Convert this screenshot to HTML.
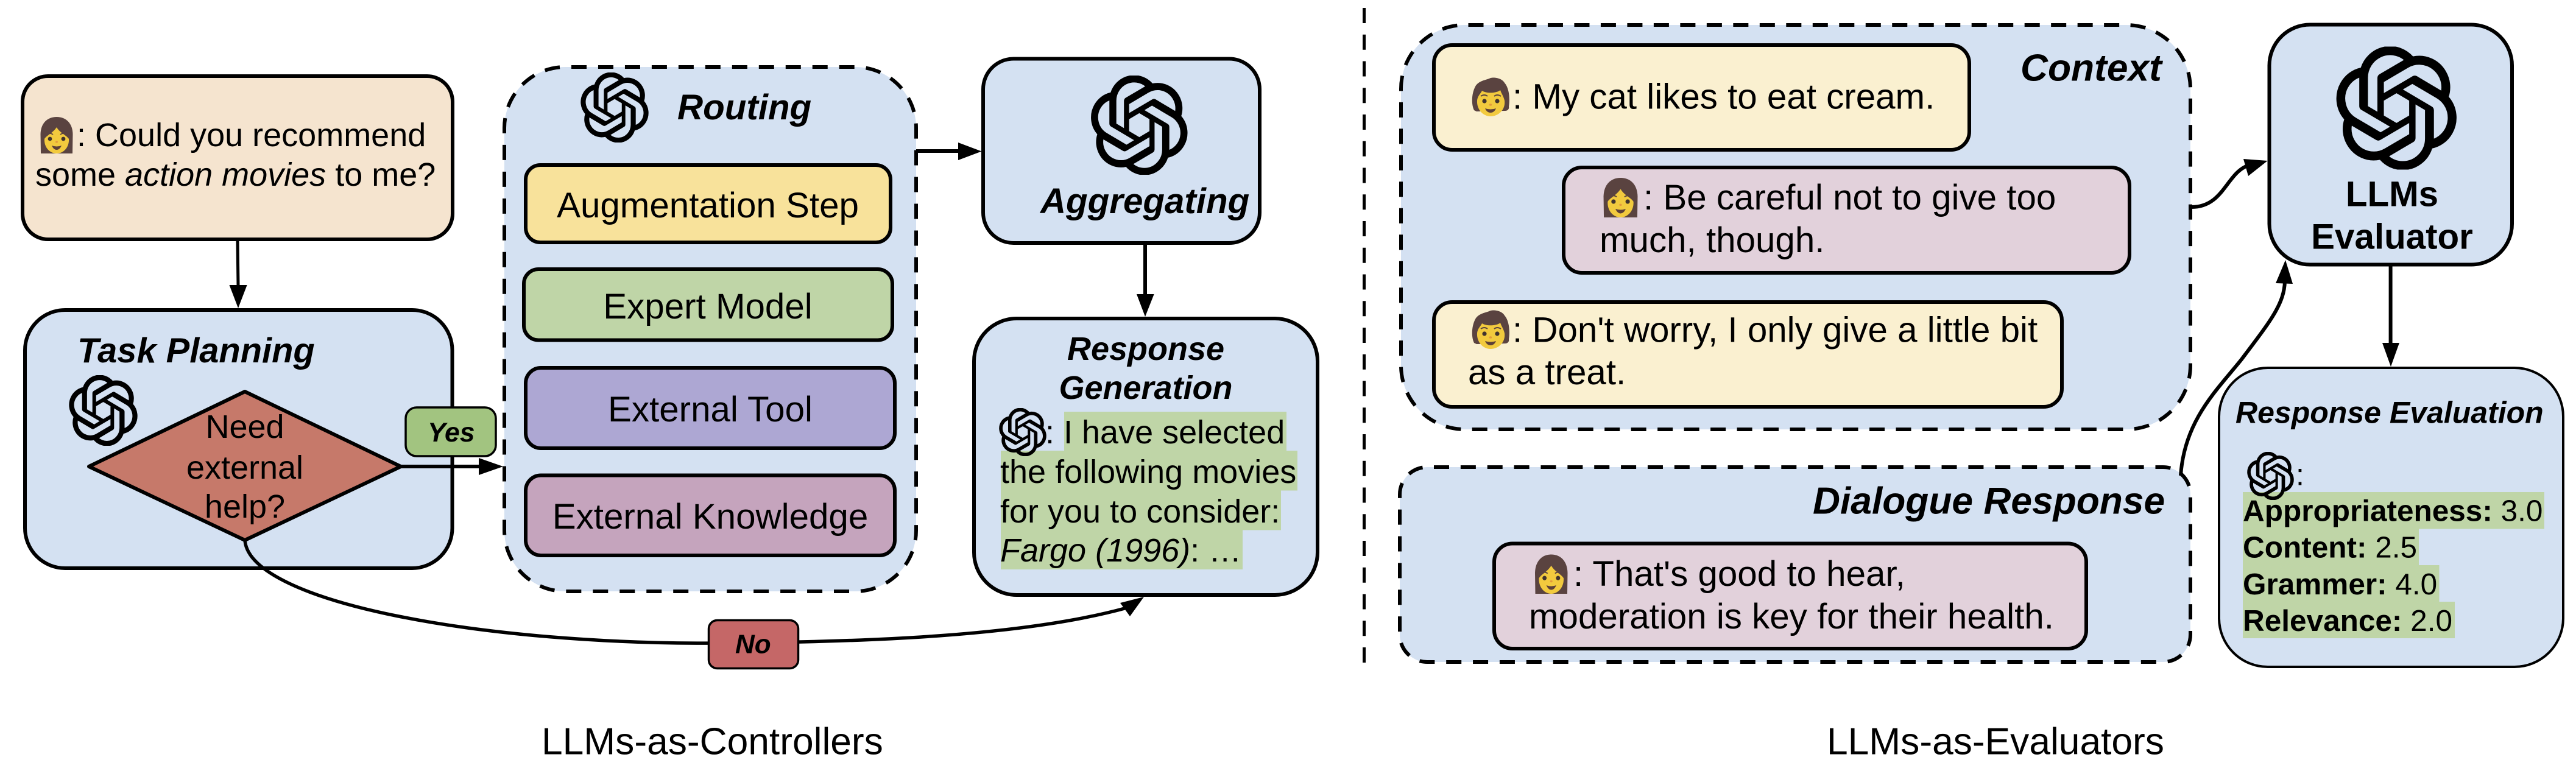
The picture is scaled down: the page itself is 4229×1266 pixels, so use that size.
<!DOCTYPE html>
<html>
<head>
<meta charset="utf-8">
<style>
html,body{margin:0;padding:0;background:#fff}
svg{display:block}
text{font-family:"Liberation Sans",sans-serif;fill:#000}
.t54{font-size:54px}
.t58{font-size:58.3px}
.t62{font-size:62.3px}
.bi{font-weight:bold;font-style:italic}
.b{font-weight:bold}
.i{font-style:italic}
.m{text-anchor:middle}
.box{stroke:#000;stroke-width:6}
.blue{fill:#d4e1f2}
.dash{stroke:#000;stroke-width:6;fill:#d4e1f2}
.ln{stroke:#000;stroke-width:5;fill:none}
</style>
</head>
<body>
<svg xmlns="http://www.w3.org/2000/svg" width="4229" height="1266" viewBox="0 0 4229 1266">
<defs>
<symbol id="gpt" viewBox="0 0 24 24" preserveAspectRatio="none">
<path fill="#000" stroke="#000" stroke-width="0.18" d="M22.2819 9.8211a5.9847 5.9847 0 0 0-.5157-4.9108 6.0462 6.0462 0 0 0-6.5098-2.9A6.0651 6.0651 0 0 0 4.9807 4.1818a5.9847 5.9847 0 0 0-3.9977 2.9 6.0462 6.0462 0 0 0 .7427 7.0966 5.9847 5.9847 0 0 0 .511 4.9107 6.051 6.051 0 0 0 6.5146 2.9001A5.9847 5.9847 0 0 0 13.2599 24a6.0557 6.0557 0 0 0 5.7718-4.2058 5.9894 5.9894 0 0 0 3.9977-2.9001 6.0557 6.0557 0 0 0-.7475-7.0729zm-9.022 12.6081a4.4755 4.4755 0 0 1-2.8764-1.0408l.1419-.0804 4.7783-2.7582a.7948.7948 0 0 0 .3927-.6813v-6.7369l2.02 1.1686a.071.071 0 0 1 .038.052v5.5826a4.504 4.504 0 0 1-4.4945 4.4944zm-9.6607-4.1254a4.4708 4.4708 0 0 1-.5346-3.0137l.142.0852 4.783 2.7582a.7712.7712 0 0 0 .7806 0l5.8428-3.3685v2.3324a.0804.0804 0 0 1-.0332.0615L9.74 19.9502a4.4992 4.4992 0 0 1-6.1408-1.6464zM2.3408 7.8956a4.485 4.485 0 0 1 2.3655-1.9728V11.6a.7664.7664 0 0 0 .3879.6765l5.8144 3.3543-2.02 1.1685a.0757.0757 0 0 1-.071 0l-4.8303-2.7865A4.504 4.504 0 0 1 2.3408 7.872zm16.5963 3.8558L13.1038 8.364 15.1192 7.2a.0757.0757 0 0 1 .071 0l4.8303 2.7913a4.4944 4.4944 0 0 1-.6765 8.1042v-5.6772a.79.79 0 0 0-.407-.667zm2.0107-3.0231l-.142-.0852-4.7735-2.7818a.7759.7759 0 0 0-.7854 0L9.409 9.2297V6.8974a.0662.0662 0 0 1 .0284-.0615l4.8303-2.7866a4.4992 4.4992 0 0 1 6.6802 4.66zM8.3065 12.863l-2.02-1.1638a.0804.0804 0 0 1-.038-.0567V6.0742a4.4992 4.4992 0 0 1 7.3757-3.4537l-.142.0805L8.704 5.459a.7948.7948 0 0 0-.3927.6813zm1.0976-2.3654l2.602-1.4998 2.6069 1.4998v2.9994l-2.5974 1.4997-2.6067-1.4997Z"/>
</symbol>
<symbol id="woman" viewBox="0 0 54 60" preserveAspectRatio="none">
<path fill="#5a4340" d="M1,60 L0.5,28 C1,10 12,0 27,0 C42,0 53,10 53.5,28 L53,60 Z"/>
<path fill="#f2ca3e" d="M7,36 C11,30 20,27 27,17 C32,26 43,30 47,36 C48,50 38,60 27,60 C16,60 6,50 7,36 Z"/>
<circle cx="16" cy="36" r="3.4" fill="#40332e"/>
<circle cx="38" cy="36" r="3.4" fill="#40332e"/>
<path d="M10,29 Q16,25 21,29 M33,29 Q38,25 44,29" stroke="#5a4340" stroke-width="1.8" fill="none"/>
<ellipse cx="27" cy="41" rx="2" ry="1.6" fill="#e39a3c"/>
<path fill="#5d4037" d="M19,47 Q27,50 35,47 Q32,54 27,54 Q22,54 19,47 Z"/>
</symbol>
<symbol id="person" viewBox="0 0 64 64" preserveAspectRatio="none">
<path fill="#5a4340" d="M5,54 C0,44 1,26 7,15 C12,6 22,5 30,2 C34,-1 50,0 55,9 C63,18 64,36 62,48 C63,52 60,55 56,55 L9,56 Z"/>
<path fill="#f2ca3e" d="M10,38 C11,30 15,28 18,22 C26,27 42,26 48,21 C50,27 53,30 55,38 C57,53 45,64 32,64 C20,64 9,53 10,38 Z"/>
<circle cx="22" cy="39" r="3.6" fill="#40332e"/>
<circle cx="43" cy="39" r="3.6" fill="#40332e"/>
<path d="M16,31 Q22,27 27,31 M38,31 Q43,27 49,31" stroke="#5a4340" stroke-width="2" fill="none"/>
<ellipse cx="32" cy="45" rx="2.2" ry="1.8" fill="#e39a3c"/>
<path fill="#5d4037" d="M23,51 Q32,54 41,51 Q38,58 32,58 Q26,58 23,51 Z"/>
</symbol>
</defs>

<!-- Left: user box -->
<rect x="37" y="125" width="706" height="268" rx="42" fill="#f5e4cf" class="box"/>
<use href="#woman" x="66" y="192" width="54" height="60"/>
<text class="t54" x="126" y="240">: Could you recommend</text>
<text class="t54" x="58" y="305">some <tspan class="i">action movies</tspan> to me?</text>
<line x1="390" y1="396" x2="391" y2="470" class="ln"/>
<polygon points="376.5,468 405.6,468 391,506"/>

<!-- Task Planning -->
<rect x="41" y="509" width="701.5" height="424" rx="66" class="box blue"/>
<text class="bi" x="127" y="595" style="font-size:57.8px">Task Planning</text>
<use href="#gpt" x="113" y="616" width="113" height="116"/>
<polygon points="146,766 402,643 658,766 402,887" fill="#c6796a" stroke="#000" stroke-width="6" stroke-linejoin="round"/>
<text class="t54 m" x="402" y="719">Need</text>
<text class="t54 m" x="402" y="786">external</text>
<text class="t54 m" x="402" y="850">help?</text>

<!-- Routing -->
<rect x="828" y="110" width="676" height="861" rx="100" class="dash" style="stroke-dasharray:25 18.97;stroke-dashoffset:33.97"/>
<use href="#gpt" x="953" y="119" width="112" height="115"/>
<text class="t58 bi" x="1112" y="196">Routing</text>
<rect x="863" y="271" width="599" height="127" rx="24" fill="#f8e29b" class="box"/>
<text class="t58 m" x="1162" y="357">Augmentation Step</text>
<rect x="860" y="442" width="605" height="116.5" rx="24" fill="#bfd5a7" class="box"/>
<text class="t58 m" x="1162" y="523">Expert Model</text>
<rect x="863" y="604" width="606" height="132" rx="25" fill="#ada7d3" class="box"/>
<text class="t58 m" x="1166" y="692">External Tool</text>
<rect x="863" y="780.5" width="606" height="131.5" rx="25" fill="#c5a4bd" class="box"/>
<text class="t58 m" x="1166" y="868">External Knowledge</text>

<!-- Yes arrow -->
<line x1="658" y1="766" x2="790" y2="766" class="ln" style="stroke-width:6"/>
<polygon points="786,752 786,780 826,766"/>
<rect x="666" y="669" width="148" height="80" rx="18" fill="#a2c480" stroke="#000" stroke-width="3.5"/>
<text class="bi" x="702" y="725" style="font-size:44.5px">Yes</text>

<!-- Aggregating -->
<line x1="1504" y1="248" x2="1576" y2="248" class="ln" style="stroke-width:6"/>
<polygon points="1573,234 1573,263 1611.5,248.5"/>
<rect x="1614" y="96.5" width="454" height="302.5" rx="50" class="box blue"/>
<use href="#gpt" x="1790.6" y="124" width="159.4" height="163"/>
<text class="t58 bi m" x="1879.6" y="350">Aggregating</text>
<line x1="1880" y1="402" x2="1880" y2="486" class="ln" style="stroke-width:6"/>
<polygon points="1866,483 1894.6,483 1880,520"/>

<!-- Response Generation -->
<rect x="1599" y="523" width="564" height="454" rx="70" class="box blue"/>
<text class="t54 bi m" x="1881" y="591">Response</text>
<text class="t54 bi m" x="1881" y="655">Generation</text>
<rect x="1747" y="676" width="365" height="64.5" fill="#bfd5a7"/>
<rect x="1643" y="740" width="487" height="65.5" fill="#bfd5a7"/>
<rect x="1643" y="805" width="460" height="65.5" fill="#bfd5a7"/>
<rect x="1643" y="870" width="397" height="65" fill="#bfd5a7"/>
<use href="#gpt" x="1640" y="670" width="78" height="79"/>
<text class="t54" x="1716" y="728">: I have selected</text>
<text class="t54" x="1642" y="793">the following movies</text>
<text class="t54" x="1642" y="858">for you to consider:</text>
<text class="t54" x="1642" y="922"><tspan class="i">Fargo (1996)</tspan>: …</text>

<!-- No arrow -->
<path d="M402,887 C410,990 800,1060 1190,1056 C1420,1054 1680,1045 1850,998" class="ln" style="stroke-width:5.5"/>
<polygon points="1839,990 1855,1012 1878,980"/>
<rect x="1163.5" y="1018.5" width="147" height="79" rx="14" fill="#c56767" stroke="#000" stroke-width="3.5"/>
<text class="bi" x="1207" y="1072.5" style="font-size:44px">No</text>

<text class="t62" x="889" y="1238.5">LLMs-as-Controllers</text>

<!-- Separator -->
<line x1="2239.5" y1="13" x2="2239.5" y2="1088" stroke="#000" stroke-width="5" stroke-dasharray="25 18.75"/>

<!-- Context -->
<rect x="2300" y="41" width="1296" height="664" rx="105" class="dash" style="stroke-dasharray:25 18.485;stroke-dashoffset:37.985"/>
<text class="t62 bi" x="3317" y="132.7">Context</text>
<rect x="2354" y="74" width="879" height="172" rx="30" fill="#faf0d0" class="box"/>
<use href="#person" x="2415" y="127" width="64" height="64"/>
<text class="t58" x="2483" y="178.6">: My cat likes to eat cream.</text>
<rect x="2567" y="275" width="929" height="173" rx="30" fill="#e2d1db" class="box"/>
<use href="#woman" x="2632" y="292" width="57" height="65"/>
<text class="t58" x="2698" y="344">: Be careful not to give too</text>
<text class="t58" x="2626" y="414">much, though.</text>
<rect x="2354" y="496" width="1031" height="172" rx="30" fill="#faf0d0" class="box"/>
<use href="#person" x="2415" y="509" width="64" height="64"/>
<text class="t58" x="2483" y="561.6">: Don't worry, I only give a little bit</text>
<text class="t58" x="2410" y="631">as a treat.</text>

<!-- Dialogue Response -->
<rect x="2298" y="767" width="1298" height="320" rx="45" class="dash" style="stroke-dasharray:25 18.87;stroke-dashoffset:32.87"/>
<text class="bi" x="2976" y="843.5" style="font-size:62.3px">Dialogue Response</text>
<rect x="2453" y="892.5" width="972" height="172.5" rx="30" fill="#e2d1db" class="box"/>
<use href="#woman" x="2519.5" y="910.5" width="54.5" height="64.5"/>
<text class="t58" x="2583" y="962">: That's good to hear,</text>
<text class="t58" x="2510" y="1032">moderation is key for their health.</text>

<text class="t62" x="2999" y="1238.5">LLMs-as-Evaluators</text>

<!-- Context arrow -->
<path d="M3598,340 C3650,340 3655,285 3690,272" class="ln" style="stroke-width:6"/>
<polygon points="3683,261 3691,289 3722.6,264"/>

<!-- Dialogue arrow -->
<path d="M3580,781 C3586,690 3640,640 3680,590 C3725,530 3750,500 3751,462" class="ln" style="stroke-width:6"/>
<polygon points="3736,465 3764,466 3752,427"/>

<!-- LLMs Evaluator -->
<rect x="3725.5" y="40.5" width="398.5" height="394" rx="67" class="box blue"/>
<use href="#gpt" x="3835" y="76.5" width="198.5" height="202"/>
<text class="t58 b m" x="3927" y="338.7">LLMs</text>
<text class="t58 b m" x="3927" y="408.7">Evaluator</text>
<line x1="3924.6" y1="437" x2="3924.6" y2="566" class="ln" style="stroke-width:6"/>
<polygon points="3911,563 3939,563 3925,602"/>

<!-- Response Evaluation -->
<rect x="3643" y="604" width="565" height="491" rx="80" class="blue" stroke="#000" stroke-width="4"/>
<text class="bi" x="3670" y="694.6" style="font-size:50px">Response Evaluation</text>
<rect x="3682" y="808" width="495" height="60.5" fill="#bfd5a7"/>
<rect x="3682" y="868" width="289" height="60.5" fill="#bfd5a7"/>
<rect x="3682" y="928" width="322.5" height="60.5" fill="#bfd5a7"/>
<rect x="3682" y="988" width="348" height="60" fill="#bfd5a7"/>
<use href="#gpt" x="3689" y="742" width="77" height="79"/>
<text x="3769" y="796.5" style="font-size:50px">:</text>
<text x="3682" y="855.6" style="font-size:49.5px"><tspan class="b">Appropriateness:</tspan> 3.0</text>
<text x="3682" y="915.5" style="font-size:49.5px"><tspan class="b">Content:</tspan> 2.5</text>
<text x="3682" y="976" style="font-size:49.5px"><tspan class="b">Grammer:</tspan> 4.0</text>
<text x="3682" y="1036" style="font-size:49.5px"><tspan class="b">Relevance:</tspan> 2.0</text>
</svg>
</body>
</html>
